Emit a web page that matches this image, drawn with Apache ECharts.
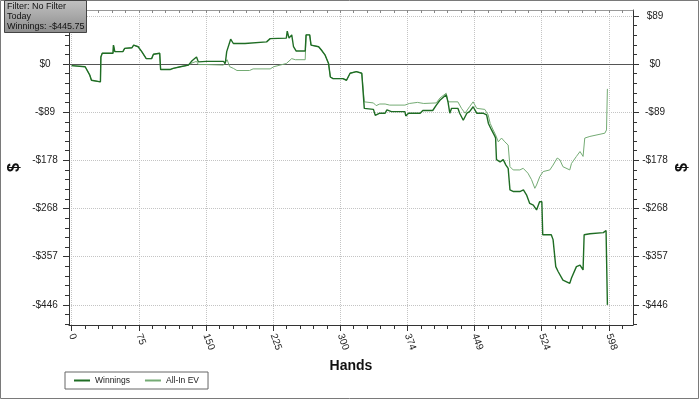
<!DOCTYPE html>
<html><head><meta charset="utf-8">
<script src="https://cdn.jsdelivr.net/npm/echarts@6/dist/echarts.min.js"></script>
<style>html,body{margin:0;padding:0;background:#fff}#c{width:700px;height:400px}</style>
</head><body><div id="c"></div>
<script>
// ---- data ----
const winHands = [0,15,20,22,24,32,32.5,34,46,46.5,48,57,59,67,69,74,78,83,89,91,98,99,110,113,121,130,134,139,141,150,169,171,172.6,177,180,193,195,217,221,239,240,242,245,247,250,260,261,265,266.5,275,278,282,286,288,291,302,306,310,317,319,323,325.8,336,338,343,349,351,356,371,372,375,388,391,402,406,410,417,419,421,423,430,432,436,440,443,447,451,458,462,464,467.5,471,472,473,477,480.5,483.5,486,488,492,499,503,506.4,510,514,517.6,521,523.5,524.5,534,536,539,541.6,547,554.6,556.5,562,566,569.4,570.6,577,592,595,596.5];
const winValues = [-3,-5,-20,-30,-33,-33,13,20,20,35,23,23,29,30,35,32,23,10,10,18,20,-10,-10,-8,-5,-2,6,13,4,5,5,1,23,46,38,38,41,41,47,48,61,48,54,32,24,24,54,54,35,32,26,17,1,-24,-27,-27,-30,-17,-14,-11,-17,-82,-84,-95,-91,-91,-85,-88,-88,-96,-91,-91,-86,-86,-76,-67,-57,-70,-91,-82,-82,-91,-104,-91,-88,-79,-91,-91,-94,-110,-122,-133,-137,-177,-181,-177,-187,-193,-233,-236,-236,-233,-242,-258,-261,-270,-255,-255,-316,-316,-325,-375,-384,-400,-406,-396,-375,-372,-381,-316,-314,-312,-308,-445.75];
const evHands = [0,15,20,22,24,32,32.5,34,46,46.5,48,57,59,67,69,74,78,83,89,91,98,99,110,113,121,130,134,139,141,150,169,171,173,176,180,184,198,202,221,225,239,245,249,260,261,265,266.5,275,278,282,286,288,291,302,306,310,317,319,323,325.8,336,339,343,349,351,354,371,373,376,385,392,406,410,417,419,430,434,438,443,447,449,451,460,463.7,466,469.3,472,475,478.6,482.3,486,488,491.6,499,502.7,508,512,515.7,517.6,521.3,525,532.4,536,540.6,543.5,547,554.6,556.5,562,566,569.4,571.3,577,593.6,595.5,596.5];
const evValues = [-3,-5,-20,-30,-33,-33,13,20,20,35,23,23,29,30,35,32,23,10,10,18,20,-10,-10,-8,-5,-2,2,5,-1,-1,-2,-3,8,-5,-8,-12,-12,-9,-9,-5,1,10,8,8,54,54,35,32,26,17,1,-24,-27,-27,-30,-17,-14,-11,-17,-70,-72,-77,-74,-74,-71,-76,-76,-79,-73,-71,-73,-72,-63,-54,-70,-70,-82,-91,-79,-70,-67,-82,-84,-94,-110,-122,-131,-144,-137,-144,-150,-190,-196,-196,-193,-202,-214,-230,-224,-208,-199,-196,-187,-174,-177,-190,-196,-184,-171,-162,-171,-137,-134,-128,-122,-46];
const xTickValues = [0,74.75,149.5,224.25,299,373.75,448.5,523.25,598];
const xTickLabels = ['0','75','150','225','300','374','449','524','598'];
const yTickValues = [89.15,0,-89.15,-178.3,-267.45,-356.6,-445.75];
const yTickLabels = ['$89','$0','-$89','-$178','-$268','-$357','-$446'];
const infoLines = ['Filter: No Filter','Today','Winnings: -$445.75'];
const seriesNames = ['Winnings','All-In EV'];

// ---- layout / style ----
const X_MIN = -3, X_MAX = 625, Y_MIN = -483, Y_MAX = 100;
const xStep = (xTickValues[1]-xTickValues[0])/5;
const xMinor = []; for (let v = 0; v <= X_MAX; v += xStep) xMinor.push(+v.toFixed(3));
const yStep = (yTickValues[0]-yTickValues[1])/5;
const yMinor = []; for (let k = Math.ceil(Y_MIN/yStep); k*yStep <= Y_MAX; k++) yMinor.push(+(k*yStep).toFixed(3));

function nearestLabel(values, labels){
  return function(v){ let b=0; for(let i=1;i<values.length;i++){ if(Math.abs(values[i]-v)<Math.abs(values[b]-v)) b=i; } return labels[b]; };
}
const FONT = 'Liberation Sans, Arial, sans-serif';
const gridLine = {show:true, lineStyle:{type:'dotted', color:'#c4c4c4', width:1}};
const WIN_COLOR = '#1f6d24', EV_COLOR = '#74ab74';

function mainY(pos){
  return {type:'value', min:Y_MIN, max:Y_MAX, position:pos,
    axisLine:{show:true, onZero:false, lineStyle:{color:'#333'}},
    axisTick:{show:true, customValues:yTickValues, length:6, lineStyle:{color:'#333'}},
    axisLabel:{show:true, customValues:yTickValues, formatter:nearestLabel(yTickValues,yTickLabels), fontSize:10, color:'#222', fontFamily:FONT,
      align:'center', margin: pos==='left'?24:22},
    splitLine: pos==='left' ? gridLine : {show:false},
    name:'$', nameLocation:'middle', nameRotate:90, nameGap: pos==='left'?46:42, nameMoveOverlap:false,
    nameTextStyle:{fontSize:16, fontWeight:'bold', color:'#111', fontFamily:FONT}};
}
function minorY(pos){
  return {type:'value', min:Y_MIN, max:Y_MAX, position:pos,
    axisLine:{show:false, onZero:false}, axisTick:{show:true, customValues:yMinor, length:4, lineStyle:{color:'#333'}},
    axisLabel:{show:false}, splitLine:{show:false}};
}

const chart = echarts.init(document.getElementById('c'), null, {renderer:'canvas'});
chart.setOption({
  animation:false,
  backgroundColor:'#fff',
  grid:{left:69, right:67, top:10, bottom:75, containLabel:false, outerBoundsMode:'none'},
  xAxis:[
    {type:'value', min:X_MIN, max:X_MAX, position:'bottom',
     axisLine:{show:true, onZero:false, lineStyle:{color:'#333'}},
     axisTick:{show:true, customValues:xTickValues, length:6, lineStyle:{color:'#333'}},
     axisLabel:{show:true, customValues:xTickValues, formatter:nearestLabel(xTickValues,xTickLabels), rotate:-70, fontSize:10, color:'#222', fontFamily:FONT, margin:9},
     splitLine:gridLine,
     name:'Hands', nameLocation:'middle', nameGap:34, nameMoveOverlap:false,
     nameTextStyle:{fontSize:14, fontWeight:'bold', color:'#111', fontFamily:FONT}},
    {type:'value', min:X_MIN, max:X_MAX, position:'bottom',
     axisLine:{show:false, onZero:false}, axisTick:{show:true, customValues:xMinor, length:4, lineStyle:{color:'#333'}},
     axisLabel:{show:false}, splitLine:{show:false}},
    {type:'value', min:X_MIN, max:X_MAX, position:'top',
     axisLine:{show:true, onZero:false, lineStyle:{color:'#999'}}, axisTick:{show:true, inside:true, customValues:xMinor, length:3, lineStyle:{color:'#888'}},
     axisLabel:{show:false}, splitLine:{show:false}}
  ],
  yAxis:[mainY('left'), mainY('right'), minorY('left'), minorY('right')],
  legend:{
    left:65, top:372, orient:'horizontal',
    data:[{name:seriesNames[0], icon:'rect', itemStyle:{color:WIN_COLOR}}, {name:seriesNames[1], icon:'rect', itemStyle:{color:EV_COLOR}}],
    borderColor:'#666', borderWidth:1, padding:[4,9,4,9],
    itemWidth:16, itemHeight:2, itemGap:15,
    textStyle:{fontSize:8.5, color:'#222', fontFamily:FONT}
  },
  series:[
    {type:'line', name:seriesNames[1], xAxisIndex:0, yAxisIndex:0,
     data: evHands.map((h,i)=>[h, evValues[i]]),
     symbol:'none', showSymbol:false, color:EV_COLOR,
     lineStyle:{width:1, color:EV_COLOR}, z:3},
    {type:'line', name:seriesNames[0], xAxisIndex:0, yAxisIndex:0,
     data: winHands.map((h,i)=>[h, winValues[i]]),
     symbol:'none', showSymbol:false, color:WIN_COLOR,
     lineStyle:{width:1.4, color:WIN_COLOR}, z:4,
     markLine:{silent:true, symbol:['none','none'], label:{show:false},
       lineStyle:{color:'#555', type:'solid', width:1}, data:[{yAxis:0}], z:2}}
  ],
  graphic:[
    {type:'rect', x:0, y:0, z:100, zlevel:5, silent:true,
     shape:{x:0.5, y:0.5, width:698, height:398}, style:{fill:'none', stroke:'#7a7a7a', lineWidth:1}},
    {type:'rect', x:4, y:0, z:100, zlevel:5, silent:true,
     shape:{x:0.5, y:0.5, width:82, height:32},
     style:{fill:new echarts.graphic.LinearGradient(0,0,0,1,[{offset:0,color:'#c2c2c2'},{offset:1,color:'#8c8c8c'}]), stroke:'#444', lineWidth:1}},
    {type:'text', x:7, y:2, z:101, zlevel:5, silent:true,
     style:{text:infoLines.join('\n'), font:'9px "Liberation Sans", sans-serif', lineHeight:10, fill:'#111'}}
  ]
});
</script></body></html>
